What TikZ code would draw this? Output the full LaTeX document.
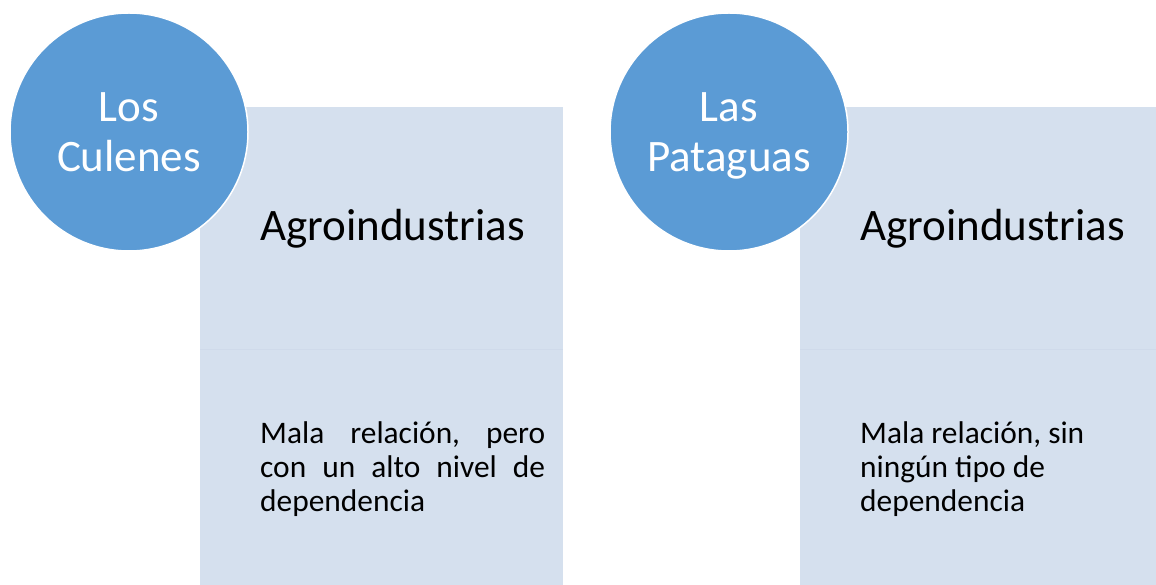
\documentclass[tikz,border=0pt]{standalone}
\usepackage{fontspec}
\setmainfont{Carlito}
\frenchspacing
\definecolor{circblue}{HTML}{5B9BD5}
\definecolor{boxfill}{HTML}{D5E0EE}
\definecolor{boxline}{HTML}{CFDAEA}
\begin{document}
\begin{tikzpicture}[x=1pt,y=-1pt,
  panel/.style={fill=boxfill, draw=none, inner sep=0pt, outer sep=0pt},
  bubble/.style={circle, fill=circblue, draw=white, line width=1.5pt, minimum size=238pt, inner sep=0pt, align=center, text=white, text depth=0pt, font=\fontsize{45}{50}\selectfont},
  heading/.style={anchor=base west, inner sep=0pt, font=\fontsize{45}{50}\selectfont},
  body/.style={anchor=base west, inner sep=0pt, font=\fontsize{31.4}{34}\selectfont\frenchspacing}
]
\useasboundingbox (0,0) rectangle (1156,585);
% panels
\fill[panel] (200,107) rectangle (563,585);
\fill[panel] (800,107) rectangle (1156,585);
\draw[boxline, line width=1pt] (200,349) -- (563,349);
\draw[boxline, line width=1pt] (800,349) -- (1156,349);
% circles
\node[bubble] (c1) at (129,132) {Los\\Culenes};
\node[bubble] (c2) at (729,132) {Las\\Pataguas};
% headings
\node[heading] (h1) at (260,241) {Agroindustrias};
\node[heading] (h2) at (860,241) {Agroindustrias};
% body left
\node[body] (l1) at (260,443) {\makebox[285pt][s]{Mala relación, pero}};
\node[body] (l2) at (260,477) {\makebox[285pt][s]{con un alto nivel de}};
\node[body] (l3) at (260,511) {dependencia};
% body right
\node[body] (r1) at (860,443) {Mala relación, sin};
\node[body] (r2) at (860,477) {ningún tipo de};
\node[body] (r3) at (860,511) {dependencia};
\end{tikzpicture}
\end{document}
